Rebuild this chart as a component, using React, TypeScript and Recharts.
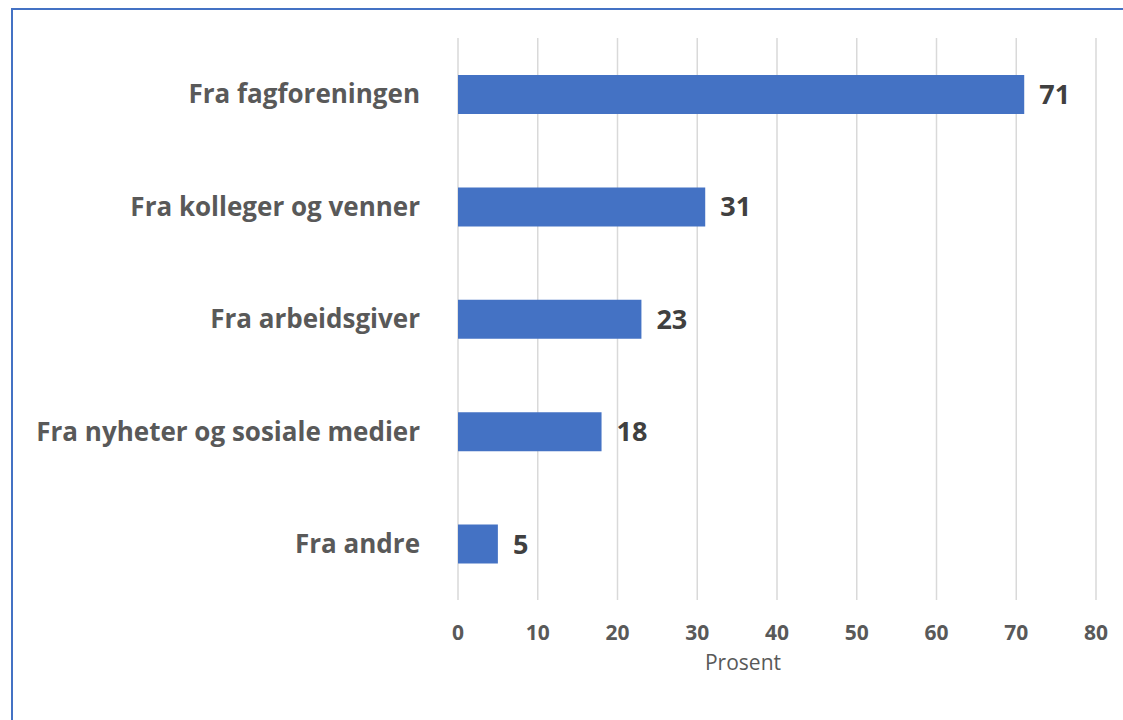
import React from "react";
import { BarChart, Bar, XAxis, YAxis, CartesianGrid, LabelList, Label } from "recharts";

const categories = [
  "Fra fagforeningen",
  "Fra kolleger og venner",
  "Fra arbeidsgiver",
  "Fra nyheter og sosiale medier",
  "Fra andre",
];
const values = [71, 31, 23, 18, 5];
const xTicks = [0, 10, 20, 30, 40, 50, 60, 70, 80];

const data = categories.map((name, i) => ({ name, value: values[i] }));

const FONT = "'Open Sans', 'Noto Sans', sans-serif";

export default function App() {
  return (
    <div style={{ position: "absolute", left: 0, top: 0, width: 1123, height: 720, overflow: "hidden", background: "#fff" }}>
      {/* frame */}
      <div
        style={{
          position: "absolute",
          left: 11,
          top: 8,
          width: 1140,
          height: 740,
          border: "2px solid #4472c4",
          boxSizing: "border-box",
        }}
      />
      <div style={{ position: "absolute", left: 0, top: 0 }}>
        <BarChart
          width={1123}
          height={720}
          data={data}
          layout="vertical"
          margin={{ top: 38, right: 27, bottom: 40, left: 0 }}
        >
          <CartesianGrid horizontal={false} stroke="#d9d9d9" strokeWidth={1.5} />
          <XAxis
            type="number"
            domain={[0, 80]}
            ticks={xTicks}
            interval={0}
            height={80}
            axisLine={false}
            tickLine={false}
            tickSize={0}
            tickMargin={25}
            tick={{ fontFamily: FONT, fontSize: 21, fontWeight: 700, fill: "#595959" }}
          >
            <Label
              content={({ viewBox }: any) => (
                <text
                  x={viewBox.x + viewBox.width / 2 - 34}
                  y={viewBox.y + 70}
                  textAnchor="middle"
                  fontFamily={FONT}
                  fontSize={21}
                  fill="#595959"
                >
                  Prosent
                </text>
              )}
            />
          </XAxis>
          <YAxis
            type="category"
            dataKey="name"
            width={458}
            axisLine={false}
            tickLine={false}
            tickSize={0}
            tickMargin={38}
            tick={{ fontFamily: FONT, fontSize: 26, fontWeight: 700, fill: "#595959" }}
          />
          <Bar dataKey="value" fill="#4472c4" barSize={39} isAnimationActive={false}>
            <LabelList
              dataKey="value"
              position="right"
              offset={15}
              style={{ fontFamily: FONT, fontSize: 27, fontWeight: 700, fill: "#404040" }}
            />
          </Bar>
        </BarChart>
      </div>
    </div>
  );
}
